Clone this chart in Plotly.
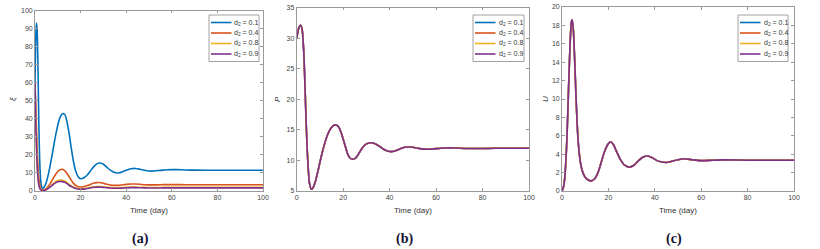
import plotly.graph_objects as go

# ---------------- data ----------------
series_names = ["d<sub>2</sub> = 0.1", "d<sub>2</sub> = 0.4", "d<sub>2</sub> = 0.8", "d<sub>2</sub> = 0.9"]
series_colors = ["#0072BD", "#D95319", "#EDB120", "#7E2F8E"]

t_xi = [0, 0.3, 0.6, 0.9, 1.2, 1.5, 1.8, 2.2, 2.6, 3, 3.5, 4, 5, 6, 7, 8, 9, 10, 11, 12,
        13, 14, 15, 16, 17, 18, 19, 20, 21, 22, 23, 24, 25, 26, 27, 28, 29, 30, 31, 32,
        33, 34, 35, 36, 37, 38, 40, 42, 44, 46, 48, 50, 52, 55, 58, 62, 66, 70, 80, 90, 100]

xi_d01 = [60, 82, 93, 90, 76, 52, 30, 12, 4.5, 2, 1.5, 2.2, 5, 10, 16.5, 23.5, 30.5, 36.5, 40.8, 42.8,
          42.5, 38.5, 31.5, 23, 15.5, 10.5, 7.8, 6.8, 7, 7.8, 9, 10.6, 12.3, 13.8, 14.9, 15.5, 15.4, 14.8, 13.8, 12.6,
          11.6, 10.8, 10.2, 10, 10.1, 10.5, 11.5, 12.3, 12.5, 12.1, 11.5, 11.1, 11.05, 11.4, 11.8, 11.85, 11.65, 11.55, 11.5, 11.5, 11.5]
xi_d04 = [60, 48, 36, 25, 16, 9.5, 5.5, 2.6, 1.2, 0.6, 0.45, 0.6, 1.4, 2.9, 4.8, 7, 9.1, 10.8, 11.8, 12,
          11.3, 9.8, 7.8, 5.8, 4.1, 3, 2.4, 2.2, 2.3, 2.6, 3, 3.5, 4, 4.4, 4.65, 4.7, 4.55, 4.25, 3.9, 3.6,
          3.35, 3.2, 3.1, 3.1, 3.2, 3.35, 3.65, 3.85, 3.85, 3.7, 3.5, 3.4, 3.38, 3.45, 3.55, 3.55, 3.5, 3.5, 3.5, 3.5, 3.5]
xi_d08 = [60, 42, 28, 17, 10, 5.5, 3, 1.4, 0.7, 0.4, 0.3, 0.4, 0.9, 1.8, 2.9, 4.1, 5.1, 5.8, 6.1, 6,
          5.5, 4.7, 3.7, 2.8, 2.1, 1.6, 1.35, 1.25, 1.3, 1.45, 1.7, 1.95, 2.2, 2.4, 2.5, 2.5, 2.45, 2.35, 2.2, 2.05,
          1.95, 1.85, 1.8, 1.8, 1.85, 1.9, 2.05, 2.15, 2.15, 2.1, 2.0, 1.95, 1.95, 1.98, 2.02, 2.02, 2.0, 2.0, 2.0, 2.0, 2.0]
xi_d09 = [60, 40, 26, 15.5, 9, 5, 2.7, 1.2, 0.6, 0.35, 0.25, 0.35, 0.8, 1.6, 2.6, 3.6, 4.5, 5.1, 5.3, 5.2,
          4.8, 4.1, 3.2, 2.4, 1.8, 1.35, 1.1, 1.0, 1.05, 1.2, 1.4, 1.65, 1.85, 2.05, 2.15, 2.15, 2.1, 2.0, 1.9, 1.75,
          1.65, 1.55, 1.5, 1.5, 1.55, 1.6, 1.75, 1.85, 1.85, 1.8, 1.72, 1.68, 1.67, 1.7, 1.73, 1.73, 1.72, 1.72, 1.72, 1.72, 1.72]
xi_series = [xi_d01, xi_d04, xi_d08, xi_d09]

t_P = [0, 0.5, 1, 1.7, 2.3, 3, 3.5, 4, 4.5, 5, 5.5, 6.3, 7, 8, 9, 10, 11, 12, 13, 14, 15, 16, 17, 18,
       19, 20, 21, 22, 23, 24, 25, 26, 27, 28, 29, 30, 32, 34, 36, 38, 40, 42, 44, 46, 48, 50, 52, 55,
       58, 62, 66, 70, 80, 90, 100]
P_vals = [30, 31, 31.8, 32.1, 31.5, 28, 23, 17, 12, 8.5, 6.3, 5.3, 5.5, 6.5, 8, 9.7, 11.3, 12.7, 13.9, 14.8, 15.4, 15.75, 15.8, 15.5,
          14.7, 13.5, 12.2, 11.0, 10.4, 10.2, 10.3, 10.7, 11.3, 11.9, 12.4, 12.7, 12.9, 12.7, 12.2, 11.7, 11.45, 11.5, 11.8, 12.1, 12.2, 12.15, 12.0, 11.85,
          11.85, 12.0, 12.05, 12.0, 11.95, 12.0, 12.0]

t_U = [0, 0.5, 1, 1.5, 2, 2.5, 3, 3.5, 4, 4.3, 4.8, 5.5, 6, 6.5, 7, 8, 9, 10, 11, 12.5, 14, 15.5, 17, 18.5,
       20, 21, 22, 23.5, 25, 27, 29, 31, 33, 35, 37, 39, 41, 43, 45, 47, 50, 53, 56, 60, 65, 70, 80, 90, 100]
U_vals = [0, 0.3, 1.0, 2.5, 5, 8.5, 12.5, 16, 18.3, 18.6, 17.8, 14, 10.5, 7.5, 5.3, 3, 2, 1.5, 1.25, 1.1, 1.3, 2, 3.2, 4.4,
          5.15, 5.35, 5.1, 4.3, 3.5, 2.8, 2.6, 2.8, 3.3, 3.7, 3.8, 3.6, 3.3, 3.15, 3.1, 3.2, 3.4, 3.5, 3.4, 3.3, 3.35, 3.38, 3.35, 3.35, 3.35]

x_ticks = [0, 20, 40, 60, 80, 100]
panel_labels = ["(a)", "(b)", "(c)"]
y_titles = ["ξ", "P", "U"]

# ---------------- figure ----------------
W, H = 820, 249
def px(x):
    return x / W
def py(y):
    return 1 - y / H

fig = go.Figure()
line_style = dict(width=1.6, shape="spline", smoothing=0.8)
for i in range(4):
    fig.add_trace(go.Scatter(x=t_xi, y=xi_series[i], mode="lines", name=series_names[i],
                             line=dict(line_style, color=series_colors[i]),
                             xaxis="x", yaxis="y", showlegend=False))
for i in range(4):
    fig.add_trace(go.Scatter(x=t_P, y=P_vals, mode="lines", name=series_names[i],
                             line=dict(line_style, color=series_colors[i]),
                             xaxis="x2", yaxis="y2", showlegend=False))
for i in range(4):
    fig.add_trace(go.Scatter(x=t_U, y=U_vals, mode="lines", name=series_names[i],
                             line=dict(line_style, color=series_colors[i]),
                             xaxis="x3", yaxis="y3", showlegend=False))

tick_font = dict(family="Liberation Sans, Arial", size=7, color="#444444")
axis_common = dict(showline=True, linecolor="#9a9a9a", linewidth=0.8, mirror="ticks",
                   ticks="inside", ticklen=3, tickcolor="#9a9a9a", tickwidth=0.8,
                   showgrid=False, zeroline=False, automargin=False, tickfont=tick_font)

x_domains = [(35, 263), (296.7, 529), (562, 794)]
y_tops = [10.5, 7.5, 7]
y_ranges = [(0, 100), (5, 35), (0, 20)]
y_dticks = [10, 5, 2]
suffix = ["", "2", "3"]

layout = dict(width=W, height=H, margin=dict(l=0, r=0, t=0, b=0),
              paper_bgcolor="white", plot_bgcolor="white", showlegend=False)

for k in range(3):
    s = suffix[k]
    layout["xaxis" + s] = dict(axis_common, domain=[px(x_domains[k][0]), px(x_domains[k][1])],
                               range=[0, 100], tickvals=x_ticks, anchor="y" + s)
    layout["yaxis" + s] = dict(axis_common, domain=[py(191), py(y_tops[k])],
                               range=list(y_ranges[k]), dtick=y_dticks[k], anchor="x" + s)
fig.update_layout(**layout)

# axis titles
title_font = dict(family="Liberation Sans, Arial", size=8, color="#333333")
ytitle_x = [12, 277, 545]
for k in range(3):
    cx = (x_domains[k][0] + x_domains[k][1]) / 2
    fig.add_annotation(text="Time (day)", x=px(cx), y=py(210), xref="paper", yref="paper",
                       showarrow=False, xanchor="center", yanchor="middle", font=title_font)
    fig.add_annotation(text="<i>" + y_titles[k] + "</i>", x=px(ytitle_x[k]), y=py(99), xref="paper", yref="paper",
                       showarrow=False, xanchor="center", yanchor="middle", textangle=-90,
                       font=dict(family="Liberation Sans, Arial", size=8, color="#333333"))

# legends (built from series names and colours)
leg_box = [(209, 259), (473, 524), (738, 788)]
leg_top, leg_bot = 15, 61.5
entry_y = [22.5, 33, 43.5, 54]
for k in range(3):
    x0, x1 = leg_box[k]
    fig.add_shape(type="rect", xref="paper", yref="paper", x0=px(x0), x1=px(x1),
                  y0=py(leg_bot), y1=py(leg_top), line=dict(color="#8a8a8a", width=0.8),
                  fillcolor="white", layer="above")
    for i in range(4):
        fig.add_shape(type="line", xref="paper", yref="paper", x0=px(x0 + 2), x1=px(x0 + 22.5),
                      y0=py(entry_y[i]), y1=py(entry_y[i]),
                      line=dict(color=series_colors[i], width=1.6), layer="above")
        fig.add_annotation(text=series_names[i], x=px(x0 + 23.5), y=py(entry_y[i]), xref="paper", yref="paper",
                           showarrow=False, xanchor="left", yanchor="middle",
                           font=dict(family="Liberation Sans, Arial", size=7, color="#333333"))

label_x = [140, 404, 674]
for k in range(3):
    fig.add_annotation(text="<b>" + panel_labels[k] + "</b>", x=px(label_x[k]), y=py(239),
                       xref="paper", yref="paper", showarrow=False, xanchor="center", yanchor="middle",
                       font=dict(family="Liberation Serif, Times New Roman", size=14, color="#111133"))

fig.write_html("out.html", config={"displayModeBar": False},
               post_script="document.body.style.margin='0px';document.body.style.padding='0px';")
